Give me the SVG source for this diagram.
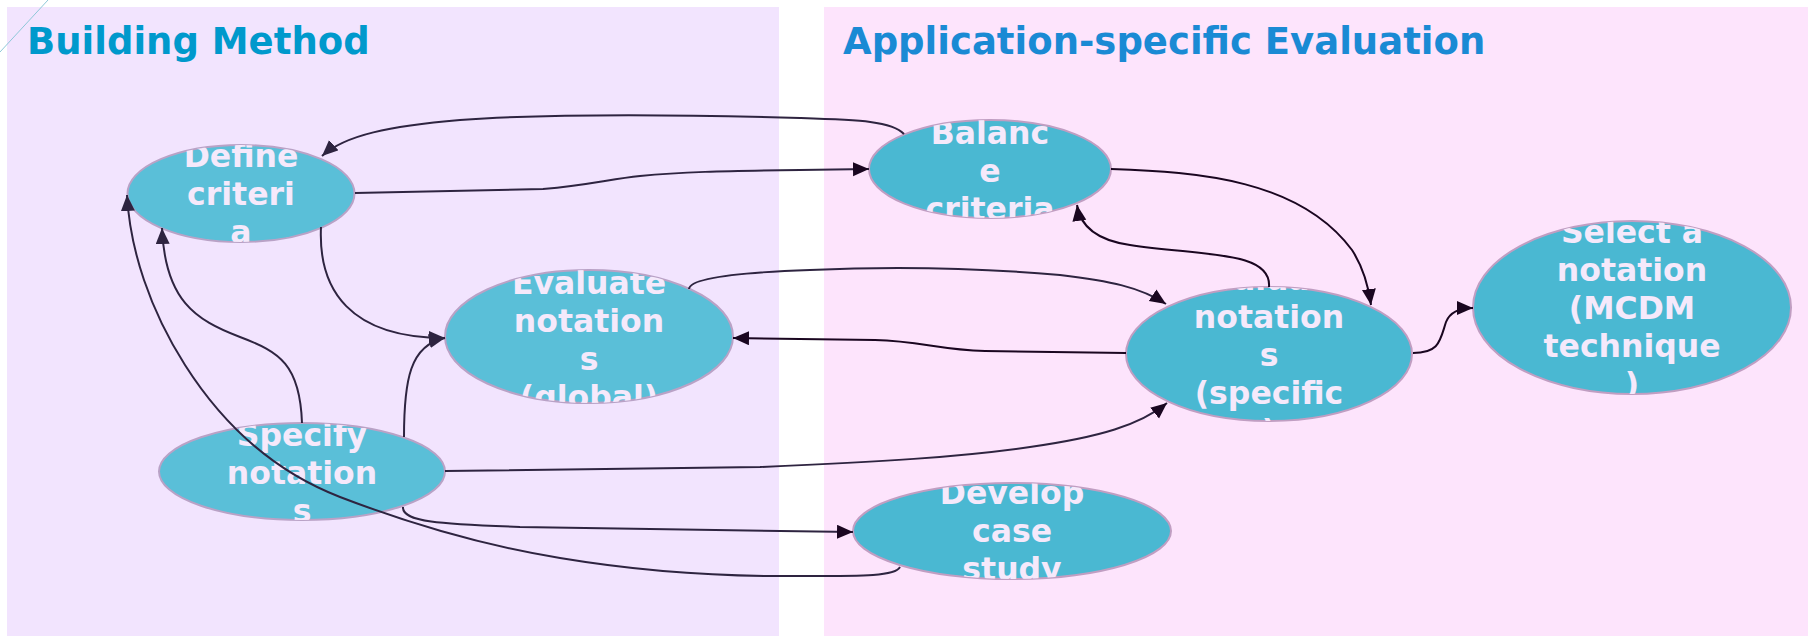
<svg xmlns="http://www.w3.org/2000/svg" width="1808" height="637" viewBox="0 0 1808 637">
<style>
.panelL{fill:#F2E4FE}
.panelR{fill:#FDE4FC}
.title{font-family:"DejaVu Sans",Verdana,sans-serif;font-weight:bold;font-size:37px}
.nodeL{fill:#5ABFD8;stroke:#B9A2C6;stroke-width:2}
.nodeR{fill:#4AB8D2;stroke:#C09EC2;stroke-width:2}
.lbl{font-family:"DejaVu Sans",Verdana,sans-serif;font-weight:bold;font-size:31.5px;fill:#F5E9FB;text-anchor:middle}
.edge{fill:none;stroke-width:2}
.eL{stroke:#2E2440}
.eR{stroke:#1A0620}
</style>
<defs>
<marker id="arrL" markerUnits="userSpaceOnUse" markerWidth="17" markerHeight="15" refX="16" refY="7" orient="auto"><path d="M0,0 L16,7 L0,14 z" fill="#2E2440"/></marker>
<marker id="arrR" markerUnits="userSpaceOnUse" markerWidth="17" markerHeight="15" refX="16" refY="7" orient="auto"><path d="M0,0 L16,7 L0,14 z" fill="#1A0620"/></marker>
<clipPath id="cDefine"><ellipse cx="241" cy="193.5" rx="113.5" ry="48.5"/></clipPath>
<clipPath id="cEvalG"><ellipse cx="589" cy="336.5" rx="144" ry="66.5"/></clipPath>
<clipPath id="cSpecify"><ellipse cx="302" cy="471.5" rx="143" ry="48.5"/></clipPath>
<clipPath id="cBalance"><ellipse cx="990" cy="169" rx="121" ry="49"/></clipPath>
<clipPath id="cEvalS"><ellipse cx="1269" cy="354" rx="143" ry="67"/></clipPath>
<clipPath id="cSelect"><ellipse cx="1632" cy="307.5" rx="159" ry="86.5"/></clipPath>
<clipPath id="cDevelop"><ellipse cx="1012" cy="531" rx="159" ry="48"/></clipPath>
</defs>
<rect width="1808" height="637" fill="#FFFFFF"/>
<g id="panels">
<rect class="panelL" x="7" y="7" width="772" height="629"/>
<rect class="panelR" x="824" y="7" width="984" height="629"/>
<line x1="0" y1="52" x2="48" y2="0" stroke="#8EC8D8" stroke-width="1"/>
<text class="title" x="27" y="54" fill="#0099CC">Building Method</text>
<text class="title" x="843" y="54" fill="#1A8AD4">Application-specific Evaluation</text>
</g>
<g id="node-define">
<ellipse class="nodeL" cx="241" cy="193.5" rx="113.5" ry="48.5"/>
<g clip-path="url(#cDefine)"><text class="lbl" x="241" y="167">Define</text><text class="lbl" x="241" y="205">criteri</text><text class="lbl" x="241" y="243">a</text></g>
</g>
<g id="node-evaluate-global">
<ellipse class="nodeL" cx="589" cy="336.5" rx="144" ry="66.5"/>
<g clip-path="url(#cEvalG)"><text class="lbl" x="589" y="294">Evaluate</text><text class="lbl" x="589" y="332">notation</text><text class="lbl" x="589" y="370">s</text><text class="lbl" x="589" y="408">(global)</text></g>
</g>
<g id="node-specify">
<ellipse class="nodeL" cx="302" cy="471.5" rx="143" ry="48.5"/>
<g clip-path="url(#cSpecify)"><text class="lbl" x="302" y="446">Specify</text><text class="lbl" x="302" y="484">notation</text><text class="lbl" x="302" y="522">s</text></g>
</g>
<g id="node-balance">
<ellipse class="nodeR" cx="990" cy="169" rx="121" ry="49"/>
<g clip-path="url(#cBalance)"><text class="lbl" x="990" y="144">Balanc</text><text class="lbl" x="990" y="182">e</text><text class="lbl" x="990" y="220">criteria</text></g>
</g>
<g id="node-evaluate-specific">
<ellipse class="nodeR" cx="1269" cy="354" rx="143" ry="67"/>
<g clip-path="url(#cEvalS)"><text class="lbl" x="1269" y="290">Evaluate</text><text class="lbl" x="1269" y="328">notation</text><text class="lbl" x="1269" y="366">s</text><text class="lbl" x="1269" y="404">(specific</text><text class="lbl" x="1269" y="442">)</text></g>
</g>
<g id="node-select">
<ellipse class="nodeR" cx="1632" cy="307.5" rx="159" ry="86.5"/>
<g clip-path="url(#cSelect)"><text class="lbl" x="1632" y="243">Select a</text><text class="lbl" x="1632" y="281">notation</text><text class="lbl" x="1632" y="319">(MCDM</text><text class="lbl" x="1632" y="357">technique</text><text class="lbl" x="1632" y="395">)</text></g>
</g>
<g id="node-develop">
<ellipse class="nodeR" cx="1012" cy="531" rx="159" ry="48"/>
<g clip-path="url(#cDevelop)"><text class="lbl" x="1012" y="504">Develop</text><text class="lbl" x="1012" y="542">case</text><text class="lbl" x="1012" y="580">study</text></g>
</g>
<g id="connectors">
<path class="edge eL" marker-end="url(#arrL)" d="M904,134 C892,121 860,120 800,118 C700,115 560,113 460,120 C390,126 345,135 322,156"/>
<path class="edge eL" marker-end="url(#arrR)" d="M355,193 L543,189 C590,185 610,179 640,176 C680,172 720,171 800,170 L869,169"/>
<path class="edge eL" marker-end="url(#arrL)" d="M321,227 C318,290 350,338 445,338"/>
<path class="edge eL" marker-end="url(#arrL)" d="M302,423 C300,365 280,352 240,337 C195,320 165,300 162,228"/>
<path class="edge eL" marker-end="url(#arrR)" d="M689,289 C690,277 750,272 810,270 C900,266 980,268 1060,275 C1110,281 1140,287 1166,304"/>
<path class="edge eR" marker-end="url(#arrR)" d="M1126,353 L985,351 C940,350 920,341 875,340 L733,338"/>
<path class="edge eR" marker-end="url(#arrR)" d="M1269,287 C1272,250 1200,256 1130,245 C1095,240 1080,225 1077,205"/>
<path class="edge eR" marker-end="url(#arrR)" d="M1111,169 C1200,172 1300,180 1352,250 C1365,270 1369,290 1371,305"/>
<path class="edge eR" marker-end="url(#arrR)" d="M1413,353 C1440,353 1440,340 1446,322 C1450,312 1460,308 1473,308"/>
<path class="edge eL" marker-end="url(#arrL)" d="M404,437 C404,380 410,345 445,338"/>
<path class="edge eL" marker-end="url(#arrR)" d="M445,471 L760,467 C880,462 960,457 1030,447 C1100,437 1140,425 1167,403"/>
<path class="edge eL" marker-end="url(#arrR)" d="M403,507 C402,522 440,524 520,527 L853,532"/>
<path class="edge eL" marker-end="url(#arrL)" d="M900,567 C895,577 860,576 780,576 C700,576 620,568 560,558 C480,545 400,520 340,497 C270,470 220,420 185,365 C150,310 130,250 127,195"/>
</g>
</svg>
